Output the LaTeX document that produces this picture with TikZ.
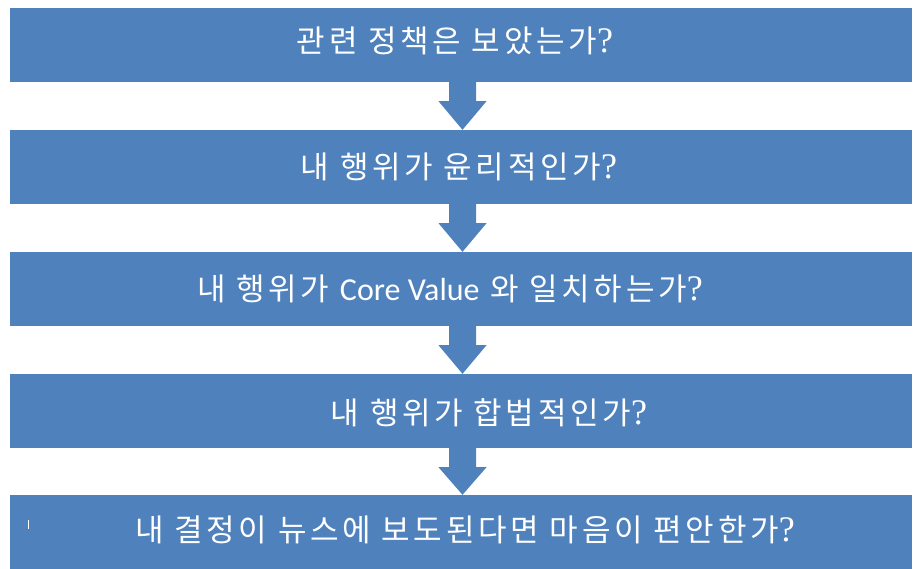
\documentclass[tikz,border=0pt]{standalone}
\usepackage{fontspec}
\newfontfamily\krfont[LetterSpace=12]{Noto Sans CJK KR}
\newfontfamily\qfont{Liberation Serif}
\newfontfamily\calfont{Carlito}
\usetikzlibrary{calc}
\definecolor{boxblue}{RGB}{79,129,189}
\newcommand{\qm}{{\qfont\fontsize{36}{36}\selectfont ?}}
\newcommand{\latin}[1]{{\calfont\fontsize{32}{34}\selectfont #1}}
\begin{document}
\begin{tikzpicture}[x=1pt,y=-1pt,
  flowbox/.style={fill=boxblue, draw=none, minimum width=902pt, minimum height=74pt, inner sep=0pt},
  flowtext/.style={text=white, font=\krfont\fontsize{31}{34}\selectfont, inner sep=0pt},
  flowarrow/.style={fill=boxblue, draw=none}]
\useasboundingbox (0,0) rectangle (917,568);
\node[flowbox] (b1) at (461,45) {};
\node[flowbox] (b2) at (461,167) {};
\node[flowbox] (b3) at (461,289) {};
\node[flowbox] (b4) at (461,411) {};
\node[flowbox] (b5) at (461,532) {};
\foreach \a/\b in {b1/b2,b2/b3,b3/b4,b4/b5}{
  \fill[flowarrow] ($(\a.south)+(-12,0)$) -- ($(\a.south)+(-12,19)$) -- ($(\a.south)+(-22.5,19)$)
    -- ($(\b.north)+(1.5,0)$) -- ($(\a.south)+(25.5,19)$) -- ($(\a.south)+(15,19)$)
    -- ($(\a.south)+(15,0)$) -- cycle;
}
\node[flowtext] (t1) at (455,41) {관련 정책은 보았는가\qm};
\node[flowtext] (t2) at (459,167) {내 행위가 윤리적인가\qm};
\node[flowtext] (t3) at (450,289) {내 행위가 \latin{Core Value} 와 일치하는가\qm};
\node[flowtext] (t4) at (489,413) {내 행위가 합법적인가\qm};
\node[flowtext] (t5) at (465,530) {내 결정이 뉴스에 보도된다면 마음이 편안한가\qm};
\draw[white, line width=1pt] (28,520) -- (28,529);
\end{tikzpicture}
\end{document}
